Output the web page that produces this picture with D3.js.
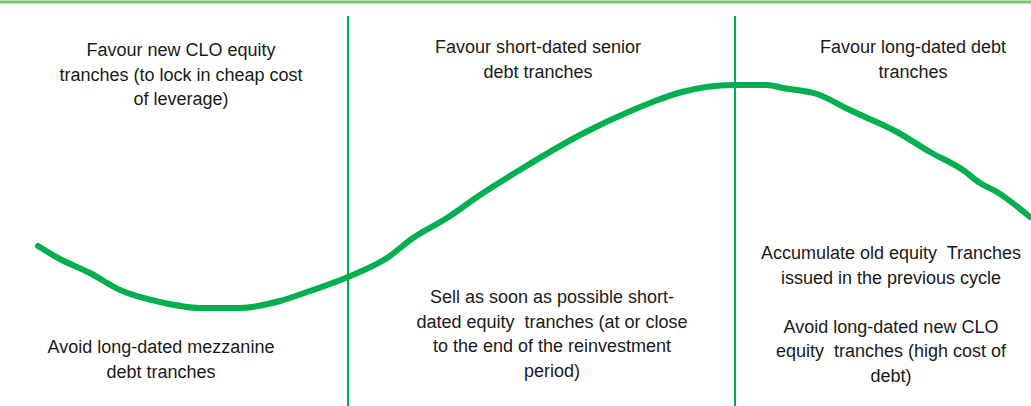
<!DOCTYPE html>
<html lang="en">
<head>
    <meta charset="UTF-8">
    <title>CLO cycle</title>
    <script src="https://d3js.org/d3.v7.min.js" charset="utf-8"></script>
    <style>
        body { margin: 0; background: #fff; }
        .note text {
            font-family: "Liberation Sans Narrow", "Arial Narrow", "Liberation Sans", sans-serif;
            font-size: 18px;
            fill: #1a1a1a;
            text-anchor: middle;
        }
    </style>
</head>
<body>
<script>
    // cycle position (x) and level of the credit cycle curve
    let cycleX = [38, 58, 90, 120, 160, 200, 240, 280, 310, 348, 387, 413, 447, 480, 523, 580, 633, 655, 682, 733, 767, 783, 817, 850, 863, 897, 930, 963, 980, 997, 1030];
    let level  = [160, 148, 133, 116, 104, 98, 98, 105, 115, 129, 148, 168, 188, 211, 238, 271, 296, 305, 314, 321, 321, 318, 312, 296, 290, 274, 254, 236, 223, 214, 189];
    // where the three phases meet
    let phaseBounds = [348, 735];

    // text in each phase, top block and bottom block
    let topNotes = [
        ['Favour new CLO equity', 'tranches (to lock in cheap cost', 'of leverage)'],
        ['Favour short-dated senior', 'debt tranches'],
        ['Favour long-dated debt', 'tranches']
    ];
    let bottomNotes = [
        ['Avoid long-dated mezzanine', 'debt tranches'],
        ['Sell as soon as possible short-', 'dated equity  tranches (at or close', 'to the end of the reinvestment', 'period)'],
        ['Accumulate old equity  Tranches', 'issued in the previous cycle', '', 'Avoid long-dated new CLO', 'equity  tranches (high cost of', 'debt)']
    ];

    var width = 1031, height = 406;
    var svg = d3.select('body').append('svg').attr('width', width).attr('height', height);

    let x = d3.scaleLinear().domain([0, 1031]).range([0, width]);
    let y = d3.scaleLinear().domain([0, 406]).range([height, 0]);

    // top rule
    svg.append('line')
        .attr('x1', 0).attr('x2', width)
        .attr('y1', 2).attr('y2', 2)
        .attr('stroke', '#78c46c')
        .attr('stroke-width', 3);

    // phase dividers
    svg.selectAll('.divider')
        .data(phaseBounds).enter()
        .append('line')
        .attr('class', 'divider')
        .attr('x1', function (d) { return x(d); })
        .attr('x2', function (d) { return x(d); })
        .attr('y1', 16)
        .attr('y2', height)
        .attr('stroke', '#00b050')
        .attr('stroke-width', 2);

    // the cycle curve
    let points = cycleX.map(function (d, i) { return [d, level[i]]; });
    let line = d3.line()
        .x(function (d) { return x(d[0]); })
        .y(function (d) { return y(d[1]); })
        .curve(d3.curveMonotoneX);
    svg.append('path')
        .datum(points)
        .attr('d', line)
        .attr('fill', 'none')
        .attr('stroke', '#00b050')
        .attr('stroke-width', 6)
        .attr('stroke-linecap', 'round');

    // note positions: centre x and first baseline
    let topPos = [[181, 56], [538, 53], [913, 53]];
    let bottomPos = [[161, 353], [552, 303], [891, 259]];
    let lineGap = 24.5;

    function addNote(lines, pos) {
        let g = svg.append('g').attr('class', 'note');
        g.selectAll('text')
            .data(lines).enter()
            .append('text')
            .attr('x', pos[0])
            .attr('y', function (d, i) { return pos[1] + i * lineGap; })
            .attr('xml:space', 'preserve')
            .text(function (d) { return d; });
    }
    topNotes.forEach(function (d, i) { addNote(d, topPos[i]); });
    bottomNotes.forEach(function (d, i) { addNote(d, bottomPos[i]); });
</script>
</body>
</html>
